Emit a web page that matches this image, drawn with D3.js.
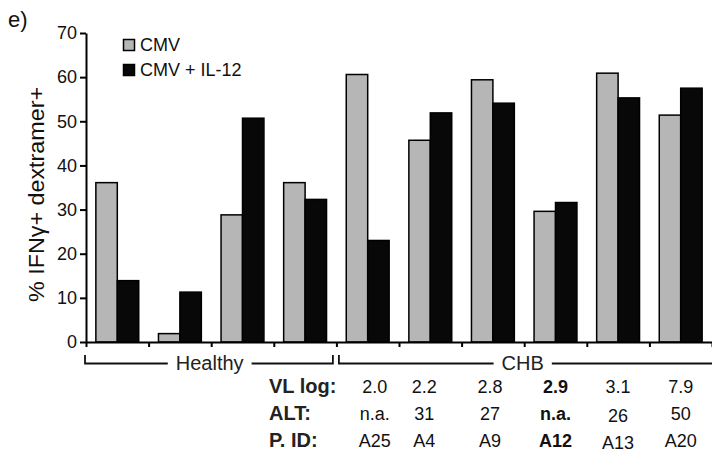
<!DOCTYPE html>
<html>
<head>
<meta charset="utf-8">
<script src="https://cdn.jsdelivr.net/npm/d3@7"></script>
<style>
  html, body { margin: 0; padding: 0; background: #fff; }
  svg { display: block; font-family: "Liberation Sans", Arial, sans-serif; }
</style>
</head>
<body>
<svg id="chart" width="712" height="452"></svg>
<script>
// ---- data ----
const categories = ["H1", "H2", "H3", "H4", "A25", "A4", "A9", "A12", "A13", "A20"];
const seriesNames = ["CMV", "CMV + IL-12"];
const cmvValues = [36.1, 1.9, 28.8, 36.1, 60.6, 45.7, 59.4, 29.6, 60.9, 51.4];
const il12Values = [13.9, 11.3, 50.7, 32.3, 23.0, 51.9, 54.1, 31.6, 55.3, 57.5];
const yTicks = [0, 10, 20, 30, 40, 50, 60, 70];
const groupNames = ["Healthy", "CHB"];
const groupSizes = [4, 6];
const tableRowLabels = ["VL log:", "ALT:", "P. ID:"];
const vlLog = ["2.0", "2.2", "2.8", "2.9", "3.1", "7.9"];
const altValues = ["n.a.", "31", "27", "n.a.", "26", "50"];
const patientIds = ["A25", "A4", "A9", "A12", "A13", "A20"];
const boldPatient = "A12";

(function () {
// ---- layout ----
const svg = d3.select("#chart");
const mLeft = 86, mRight = 712, mTop = 33, mBottom = 342;
const colors = { "CMV": "#b5b6b5", "CMV + IL-12": "#080808" };
const colShift = [7, -6, -3, 0, 0, 0]; // small horizontal nudges of table columns

const y = d3.scaleLinear().domain([0, 70]).range([mBottom, mTop]);
const xOuter = d3.scaleBand().domain(categories).range([mLeft, mRight]).padding(0);
const xInner = d3.scaleBand().domain(seriesNames).range([0, xOuter.bandwidth()])
  .paddingInner(0).paddingOuter(0.46);
const xIdx = d3.scaleLinear().domain([0, categories.length]).range([mLeft, mRight]);

// panel label
svg.append("text").attr("x", 8).attr("y", 27).attr("font-size", 22).attr("fill", "#111").text("e)");

// bars
const rows = categories.map((c, i) => ({ cat: c, vals: [
  { s: "CMV", v: cmvValues[i] }, { s: "CMV + IL-12", v: il12Values[i] }] }));
const g = svg.append("g").selectAll("g").data(rows).join("g")
  .attr("transform", d => `translate(${xOuter(d.cat)},0)`);
g.selectAll("rect").data(d => d.vals).join("rect")
  .attr("x", d => xInner(d.s))
  .attr("width", xInner.bandwidth())
  .attr("y", d => y(d.v))
  .attr("height", d => y(0) - y(d.v))
  .attr("fill", d => colors[d.s])
  .attr("stroke", "#000").attr("stroke-width", 1.5);

// y axis
const yAxis = svg.append("g").attr("transform", `translate(${mLeft},0)`)
  .call(d3.axisLeft(y).tickValues(yTicks).tickSize(6).tickSizeOuter(0).tickPadding(3));
yAxis.select(".domain").attr("stroke-width", 2);
yAxis.selectAll(".tick line").attr("stroke-width", 2);
yAxis.selectAll("text").attr("font-size", 18).attr("font-family", "Liberation Sans, Arial, sans-serif").attr("fill", "#111");

// x axis
const xAxis = svg.append("g").attr("transform", `translate(0,${mBottom})`)
  .call(d3.axisBottom(xIdx).tickValues(d3.range(0, categories.length + 1)).tickFormat("").tickSize(5).tickSizeOuter(0));
xAxis.select(".domain").attr("stroke-width", 2);
xAxis.selectAll(".tick line").attr("stroke-width", 2);

// y label
svg.append("text")
  .attr("transform", "translate(43.5,194.5) rotate(-90)")
  .attr("text-anchor", "middle")
  .attr("font-size", 22)
  .attr("fill", "#111")
  .attr("textLength", 215).attr("lengthAdjust", "spacingAndGlyphs")
  .text("% IFNγ+ dextramer+");

// legend
const leg = svg.append("g");
seriesNames.forEach((s, i) => {
  leg.append("rect").attr("x", 123.5).attr("y", 39.5 + i * 25).attr("width", 11).attr("height", 11)
    .attr("fill", colors[s]).attr("stroke", "#000").attr("stroke-width", 1.5);
  leg.append("text").attr("x", 140).attr("y", 51 + i * 25).attr("font-size", 18).attr("fill", "#111").text(s);
});

// group brackets
const bracketY = 363.5, bracketTop = 355;
let startIdx = 0;
groupNames.forEach((name, gi) => {
  const x0 = xIdx(startIdx) + (gi === 0 ? -1 : 2.5);
  const endIdx = startIdx + groupSizes[gi];
  const x1 = gi === groupNames.length - 1 ? xIdx(endIdx) : xIdx(endIdx) - 3.5;
  const cx = (xIdx(startIdx) + xIdx(endIdx)) / 2 - 1.5;
  const t = svg.append("text").attr("x", cx).attr("y", 370).attr("text-anchor", "middle")
    .attr("font-size", 20).attr("fill", "#222").text(name);
  const w = t.node().getComputedTextLength();
  const gap = 8;
  const path = d3.path();
  path.moveTo(x0, bracketTop); path.lineTo(x0, bracketY); path.lineTo(cx - w / 2 - gap, bracketY);
  path.moveTo(cx + w / 2 + gap, bracketY); path.lineTo(x1, bracketY);
  if (gi !== groupNames.length - 1) path.lineTo(x1, bracketTop);
  svg.append("path").attr("d", path.toString()).attr("fill", "none")
    .attr("stroke", "#111").attr("stroke-width", 1.8);
  startIdx = endIdx;
});

// table
const tableBase = [393, 420, 447];
tableRowLabels.forEach((lab, r) => {
  svg.append("text").attr("x", 269).attr("y", tableBase[r]).attr("font-size", 20)
    .attr("font-weight", "bold").attr("fill", "#222").text(lab);
});
const chbCats = categories.slice(groupSizes[0]);
[vlLog, altValues, patientIds].forEach((arr, r) => {
  arr.forEach((v, i) => {
    const cat = chbCats[i];
    svg.append("text")
      .attr("x", xOuter(cat) + xOuter.bandwidth() / 2 + colShift[i])
      .attr("y", tableBase[r] + (i === 4 && r > 0 ? 2 : 0))
      .attr("text-anchor", "middle")
      .attr("font-size", 18)
      .attr("fill", "#111")
      .attr("font-weight", patientIds[i] === boldPatient ? "bold" : "normal")
      .text(v);
  });
});
})();
</script>
</body>
</html>
